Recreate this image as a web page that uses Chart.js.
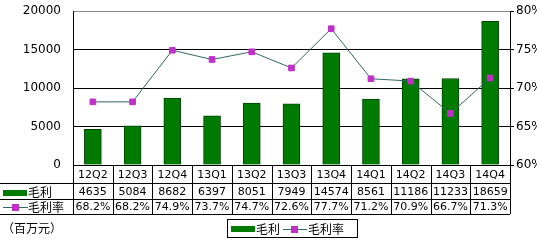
<!DOCTYPE html>
<html>
<head>
<meta charset="utf-8">
<script src="https://cdn.jsdelivr.net/npm/chart.js@4"></script>
<style>
  html, body { margin: 0; padding: 0; background: #fff; }
  #wrap { width: 537px; height: 241px; position: relative; }
</style>
</head>
<body>
<div id="wrap"><canvas id="chartMaoli"></canvas></div>
<script>
const quarters = ['12Q2', '12Q3', '12Q4', '13Q1', '13Q2', '13Q3', '13Q4', '14Q1', '14Q2', '14Q3', '14Q4'];
const maoli = [4635, 5084, 8682, 6397, 8051, 7949, 14574, 8561, 11186, 11233, 18659];
const maoliLv = [68.2, 68.2, 74.9, 73.7, 74.7, 72.6, 77.7, 71.2, 70.9, 66.7, 71.3];
const leftTicks = [0, 5000, 10000, 15000, 20000];
const rightTicks = [60, 65, 70, 75, 80];

const barColor = '#007a00';
const barBorder = '#004400';
const lineColor = '#336666';
const markColor = '#c030c8';
const fontTxt = '11px "DejaVu Sans", "Noto Sans CJK SC", sans-serif';
const fontCjk = '12px "Noto Sans CJK SC", sans-serif';

// tabla de datos + leyenda dibujadas debajo del grafico
const tablaPlugin = {
    id: 'tabla',
    afterDraw(chart) {
        const ctx = chart.ctx;
        const x = chart.scales.x;
        const area = chart.chartArea;
        const r1 = area.bottom, r2 = 183, r3 = 199, r4 = 214;
        const colW = (area.right - area.left) / quarters.length;
        ctx.save();
        ctx.strokeStyle = '#000';
        ctx.lineWidth = 1;
        ctx.beginPath();
        [r2, r3, r4].forEach(y => { ctx.moveTo(0, y + 0.5); ctx.lineTo(area.right, y + 0.5); });
        for (let i = 0; i <= quarters.length; i++) {
            const xx = Math.round(area.left + i * colW) + 0.5;
            ctx.moveTo(xx, r1); ctx.lineTo(xx, r4);
        }
        ctx.stroke();

        ctx.fillStyle = '#000';
        ctx.textAlign = 'center';
        ctx.textBaseline = 'middle';
        ctx.font = fontTxt;
        quarters.forEach((q, i) => {
            const cx = x.getPixelForValue(i);
            ctx.fillText(q, cx, (r1 + r2) / 2 + 1);
            ctx.fillText(String(maoli[i]), cx, (r2 + r3) / 2 + 1);
            ctx.fillText(maoliLv[i].toFixed(1) + '%', cx, (r3 + r4) / 2 + 1);
        });

        // swatches en la tabla
        ctx.textAlign = 'left';
        ctx.font = fontCjk;
        ctx.fillStyle = barColor;
        ctx.fillRect(3, 190, 24, 6);
        ctx.fillStyle = '#000';
        ctx.fillText('毛利', 28, (r2 + r3) / 2 + 1);
        ctx.strokeStyle = lineColor;
        ctx.beginPath(); ctx.moveTo(3, 207.5); ctx.lineTo(28, 207.5); ctx.stroke();
        ctx.fillStyle = markColor;
        ctx.fillRect(12, 204, 7, 7);
        ctx.fillStyle = '#000';
        ctx.fillText('毛利率', 28, (r3 + r4) / 2 + 1);

        // unidad
        ctx.fillText('（百万元）', 2, 228);

        // leyenda
        ctx.strokeStyle = '#000';
        ctx.strokeRect(227.5, 219.5, 130, 18);
        ctx.fillStyle = barColor;
        ctx.fillRect(231, 226, 24, 6);
        ctx.fillStyle = '#000';
        ctx.fillText('毛利', 256, 229);
        ctx.strokeStyle = lineColor;
        ctx.beginPath(); ctx.moveTo(283, 229.5); ctx.lineTo(307, 229.5); ctx.stroke();
        ctx.fillStyle = markColor;
        ctx.fillRect(291, 226, 7, 7);
        ctx.fillStyle = '#000';
        ctx.fillText('毛利率', 308, 229);
        ctx.restore();
    }
};

new Chart(document.getElementById('chartMaoli'), {
    type: 'bar',
    data: {
        labels: quarters,
        datasets: [{
            type: 'line',
            label: '毛利率',
            data: maoliLv,
            yAxisID: 'y1',
            borderColor: lineColor,
            borderWidth: 1,
            pointStyle: 'rect',
            pointRadius: 4,
            pointBackgroundColor: markColor,
            pointBorderColor: markColor,
            tension: 0,
            order: 0
        }, {
            label: '毛利',
            data: maoli,
            yAxisID: 'y',
            backgroundColor: barColor,
            borderColor: barBorder,
            borderWidth: 1,
            barThickness: 17,
            order: 1
        }]
    },
    options: {
        responsive: true,
        maintainAspectRatio: false,
        animation: false,
        layout: { padding: { top: 11, bottom: 76, left: 0, right: 0 } },
        scales: {
            x: {
                display: false
            },
            y: {
                position: 'left',
                min: 0, max: 20000,
                afterBuildTicks: s => { s.ticks = leftTicks.map(v => ({ value: v })); },
                afterFit: s => { s.width = 73; s.paddingTop = 0; s.paddingBottom = 0; },
                ticks: { color: '#000', font: { size: 12, family: 'DejaVu Sans' }, padding: 12, callback: v => String(v) },
                grid: {
                    drawTicks: false,
                    color: c => c.tick.value === 20000 ? '#888' : '#000'
                },
                border: { color: '#000' }
            },
            y1: {
                position: 'right',
                min: 60, max: 80,
                afterBuildTicks: s => { s.ticks = rightTicks.map(v => ({ value: v })); },
                afterFit: s => { s.width = 27; s.paddingTop = 0; s.paddingBottom = 0; },
                ticks: { color: '#000', font: { size: 12, family: 'DejaVu Sans' }, padding: 2, callback: v => v + '%' },
                grid: { drawOnChartArea: false, tickLength: 4, color: '#000' },
                border: { color: '#000' }
            }
        },
        plugins: {
            legend: { display: false },
            tooltip: { enabled: false }
        }
    },
    plugins: [tablaPlugin]
});
</script>
</body>
</html>
